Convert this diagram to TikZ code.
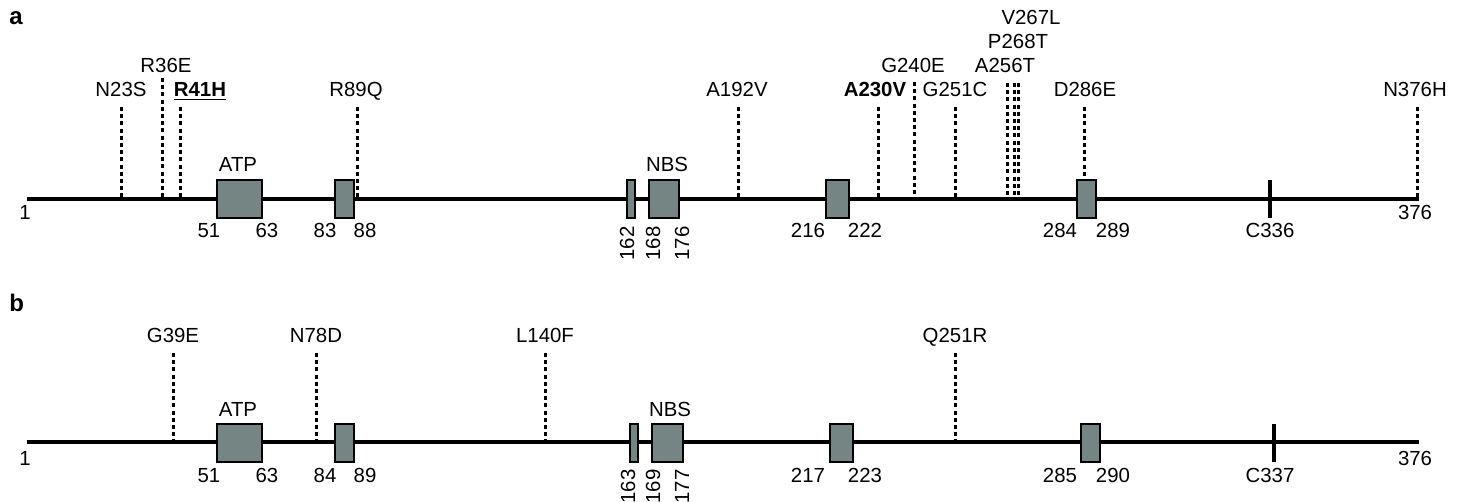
\documentclass[tikz,border=0pt]{standalone}
\usepackage{fontspec}
\setmainfont{Liberation Sans}
\definecolor{boxgrey}{RGB}{117,133,131}
\tikzset{
  prot/.style={line width=1.6pt, line cap=rect},
  dom/.style={draw=black, line width=1.3pt, fill=boxgrey, inner sep=0pt, outer sep=0pt, minimum height=19pt},
  tickmark/.style={line width=2.1pt},
  mut/.style={line width=1.5pt, dash pattern=on 2pt off 1.6pt},
  lbl/.style={font=\fontsize{10.2}{12}\selectfont, inner sep=0pt, anchor=base},
  rlbl/.style={font=\fontsize{10.2}{12}\selectfont, inner sep=0pt, rotate=90, anchor=east},
  panel/.style={font=\fontsize{12}{14}\selectfont\bfseries, inner sep=0pt, anchor=base west}
}
\newcommand\dombox[5]{\node[dom, minimum width={(#3-#2)*0.5pt}] (#1) at ({(#2+#3)/2},#4) {};}
\begin{document}
\begin{tikzpicture}[x=0.5pt,y=-0.5pt]
\useasboundingbox (0,0) rectangle (1461,502);

% ---------------- panel a ----------------
\node[panel] (pa) at (9,25) {a};
\coordinate (aS) at (29,199);
\coordinate (aE) at (1417,199);
\draw[prot] (aS) -- (aE);
\node[lbl] (a1) at (25,220) {1};
\node[lbl] (a376) at (1415,220) {376};

% mutations a: name/x of line/top of line/label x/label baseline/text
\foreach \n/\lx/\ty/\tx/\by/\txt in {
  N23S/121/107/121/97/{N23S},
  R36E/162/78/166/73/{R36E},
  R41H/180/107/200/97/{\underline{\textbf{R41H}}},
  R89Q/357/107/356/97/{R89Q},
  A192V/738/107/737/97/{A192V},
  A230V/878/107/875/97/{\textbf{A230V}},
  G240E/914/82/913/73/{G240E},
  G251C/955/107/955/97/{G251C},
  A256T/1007/83/1005/73/{A256T},
  P268T/1014/83/1018/49/{P268T},
  V267L/1018/83/1031/25/{V267L},
  N376H/1417/107/1415/97/{N376H}}{
  \node[lbl] (ml\n) at (\tx,\by) {\txt};
  \coordinate (mt\n) at (\lx,\ty);
  \coordinate (mb\n) at (\lx,199);
  \draw[mut] (mt\n) -- (mb\n);
}

% domains a
\dombox{aATP}{217}{262}{199}{}
\dombox{aB2}{335}{354}{199}{}
\dombox{aB3}{627}{635}{199}{}
\dombox{aNBS}{649}{679}{199}{}
\dombox{aB5}{826}{849}{199}{}
\dombox{aB6}{1077}{1096}{199}{}
\coordinate (aCt) at (1270,180);
\coordinate (aCb) at (1270,218);
\draw[tickmark] (aCt) -- (aCb);

% D286E ends on box top
\node[lbl] (mlD286E) at (1085,97) {D286E};
\coordinate (mtD286E) at (1084,107);
\draw[mut] (mtD286E) -- (aB6.north -| mtD286E);

\node[lbl] (aATPl) at (238,172) {ATP};
\node[lbl] (aNBSl) at (667,172) {NBS};

\foreach \n/\x/\t in {n51/209/51, n63/267/63, n83/325/83, n88/365/88, n216/808/216, n222/865/222, n284/1060/284, n289/1113/289, nC336/1270/C336}{
  \node[lbl] (a\n) at (\x,238) {\t};
}
\foreach \n/\x in {162/627, 168/653, 176/682}{
  \node[rlbl] (ar\n) at (\x,226) {\n};
}

% ---------------- panel b ----------------
\node[panel] (pb) at (9,312) {b};
\coordinate (bS) at (29,442);
\coordinate (bE) at (1417,442);
\draw[prot] (bS) -- (bE);
\node[lbl] (b1) at (25,465) {1};
\node[lbl] (b376) at (1415,465) {376};

\foreach \n/\lx in {G39E/173, N78D/316, L140F/545, Q251R/955}{
  \node[lbl] (bl\n) at (\lx,342) {\n};
  \coordinate (bt\n) at (\lx,353);
  \coordinate (bb\n) at (\lx,442);
  \draw[mut] (bt\n) -- (bb\n);
}

\dombox{bATP}{217}{262}{443}{}
\dombox{bB2}{335}{354}{443}{}
\dombox{bB3}{630}{638}{443}{}
\dombox{bNBS}{652}{683}{443}{}
\dombox{bB5}{830}{853}{443}{}
\dombox{bB6}{1081}{1100}{443}{}
\coordinate (bCt) at (1274,424);
\coordinate (bCb) at (1274,462);
\draw[tickmark] (bCt) -- (bCb);

\node[lbl] (bATPl) at (238,416) {ATP};
\node[lbl] (bNBSl) at (670,416) {NBS};

\foreach \n/\x/\t in {n51/209/51, n63/267/63, n84/325/84, n89/365/89, n217/808/217, n223/865/223, n285/1060/285, n290/1113/290, nC337/1270/C337}{
  \node[lbl] (b\n) at (\x,482) {\t};
}
\foreach \n/\x in {163/628, 169/653, 177/682}{
  \node[rlbl] (br\n) at (\x,469) {\n};
}
\end{tikzpicture}
\end{document}
